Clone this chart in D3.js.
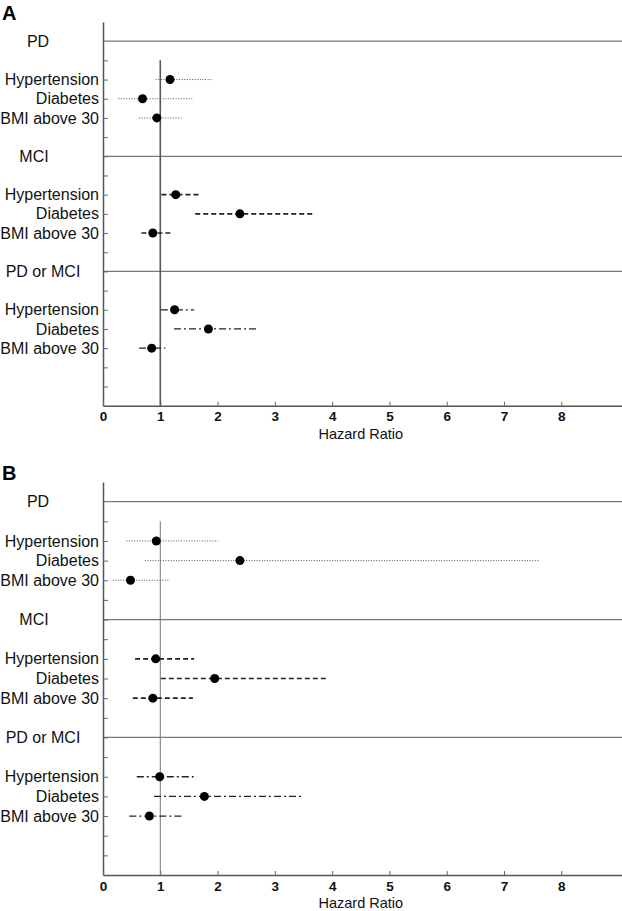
<!DOCTYPE html>
<html><head><meta charset="utf-8">
<script src="https://cdn.jsdelivr.net/npm/d3@7"></script>
<style>body{margin:0;background:#fff}svg{display:block;font-family:"Liberation Sans",Arial,sans-serif}</style>
</head><body><svg id="c" width="622" height="911"></svg>
<script>
const groups = ["PD", "MCI", "PD or MCI"];
const factors = ["Hypertension", "Diabetes", "BMI above 30"];
const xTicks = [0, 1, 2, 3, 4, 5, 6, 7, 8];
// Panel A: hazard ratios and 95% CI, per group in order of factors
const hrA   = [1.17, 0.69, 0.94,  1.27, 2.39, 0.87,  1.25, 1.84, 0.85];
const lowA  = [0.92, 0.27, 0.63,  1.02, 1.61, 0.67,  1.01, 1.24, 0.63];
const highA = [1.90, 1.57, 1.37,  1.68, 3.68, 1.20,  1.59, 2.68, 1.09];
// Panel B
const hrB   = [0.93, 2.39, 0.48,  0.92, 1.95, 0.87,  0.99, 1.77, 0.81];
const lowB  = [0.41, 0.73, 0.17,  0.56, 1.01, 0.52,  0.59, 0.89, 0.46];
const highB = [2.01, 7.61, 1.16,  1.59, 3.90, 1.57,  1.64, 3.47, 1.39];

const svg = d3.select("#c");
const groupRow = [19, 13, 7];
const dashes = ["1,1.6", "5,3", "7,3,2,3"];
const widths = [1, 1.6, 1.3];

function panel(letter, axisY, topY, hr, low, high, refW, refC) {
  const g = svg.append("g");
  const x = d3.scaleLinear().domain([0, 9.06]).range([103, 622]);
  const y = d3.scaleLinear().domain([0, 20]).range([axisY, topY]);

  g.append("text").attr("x", 2).attr("y", y(20) - 2).attr("font-size", 20)
    .attr("font-weight", "bold").text(letter);

  // group separator lines
  groupRow.forEach((k, gi) => {
    g.append("line").attr("x1", x(0)).attr("x2", 622).attr("y1", y(k)).attr("y2", y(k))
      .attr("stroke", "#777").attr("stroke-width", 1.3);
    g.append("text").attr("x", [38, 34, 43][gi]).attr("y", y(k)).attr("dy", "0.35em")
      .attr("text-anchor", "middle").attr("font-size", 16).attr("fill", "#111").text(groups[gi]);
  });

  // y axis (ticks only)
  const yAxis = d3.axisRight(y).tickValues(d3.range(1, 19)).tickFormat("").tickSizeInner(5).tickSizeOuter(0);
  const ya = g.append("g").attr("transform", `translate(${x(0)},0)`).call(yAxis);
  ya.select(".domain").attr("stroke", "#555").attr("stroke-width", 1.5);
  ya.selectAll(".tick line").attr("stroke", "#666");

  // x axis
  const xAxis = d3.axisBottom(x).tickValues(xTicks).tickFormat(d3.format("d"))
    .tickSizeInner(-4).tickSizeOuter(0).tickPadding(6);
  const xa = g.append("g").attr("transform", `translate(0,${axisY})`).call(xAxis);
  xa.select(".domain").attr("stroke", "#555").attr("stroke-width", 1.5);
  xa.selectAll(".tick line").attr("stroke", "#666");
  xa.selectAll(".tick text").attr("font-size", 13.5).attr("font-weight", "bold")
    .attr("font-family", "'Liberation Sans',Arial,sans-serif").attr("fill", "#111");
  g.append("text").attr("x", x(4.5)).attr("y", axisY + 32.8).attr("text-anchor", "middle")
    .attr("font-size", 14.5).attr("fill", "#111").text("Hazard Ratio");

  // reference line at HR = 1
  g.append("line").attr("x1", x(1)).attr("x2", x(1)).attr("y1", y(18)).attr("y2", y(0))
    .attr("stroke", refC).attr("stroke-width", refW);

  // rows
  groupRow.forEach((k, gi) => {
    factors.forEach((f, fi) => {
      const i = gi * 3 + fi;
      const yy = y(k - 2 - fi);
      g.append("text").attr("x", 99).attr("y", yy).attr("dy", "0.35em")
        .attr("text-anchor", "end").attr("font-size", 16).attr("fill", "#111").text(f);
      g.append("line").attr("x1", x(low[i])).attr("x2", x(high[i])).attr("y1", yy).attr("y2", yy)
        .attr("stroke", gi === 0 ? "#555" : "#222").attr("stroke-width", widths[gi])
        .attr("stroke-dasharray", dashes[gi]);
      g.append("circle").attr("cx", x(hr[i])).attr("cy", yy).attr("r", 4.5).attr("fill", "#000");
    });
  });
}

panel("A", 405.7, 22, hrA, lowA, highA, 1.6, "#555");
panel("B", 875, 482, hrB, lowB, highB, 1, "#777");
</script></body></html>
